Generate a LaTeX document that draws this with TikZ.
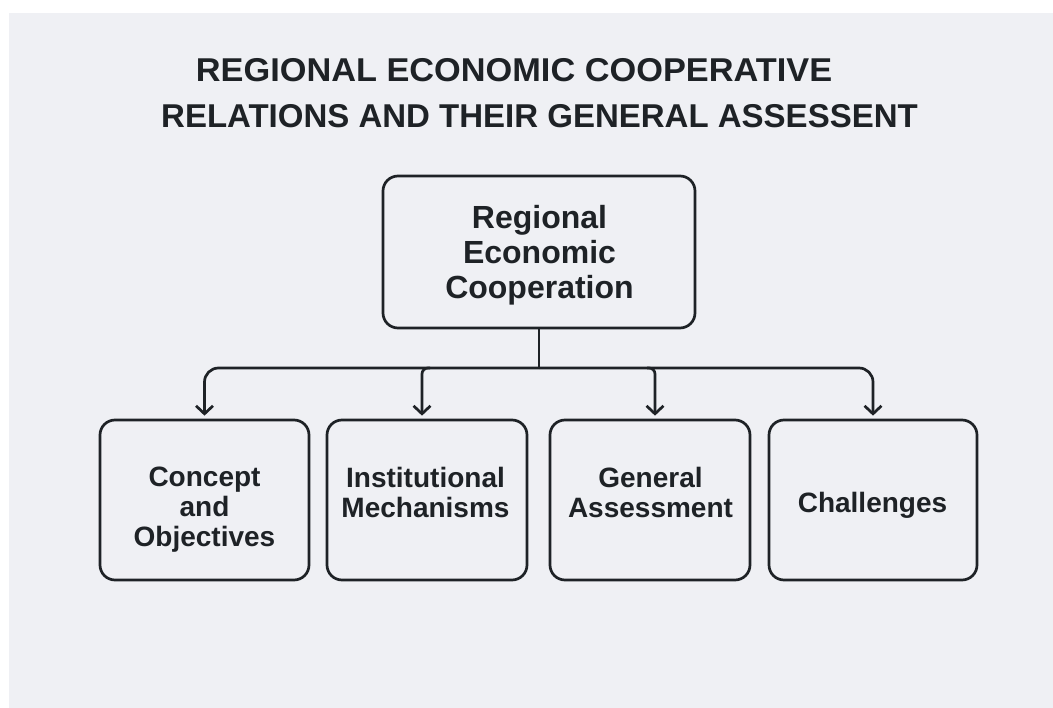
\documentclass[tikz,border=0pt]{standalone}
\usepackage{fontspec}
\setmainfont{Liberation Sans}
\usetikzlibrary{arrows.meta}
\definecolor{bg}{HTML}{EFF0F4}
\definecolor{ink}{HTML}{1E2226}
\begin{document}
\begin{tikzpicture}[x=1pt,y=-1pt,
  box/.style={draw=ink, line width=2.7pt, rounded corners=15pt, inner sep=0pt},
  txt/.style={text=ink, font=\bfseries\fontsize{28}{30}\selectfont, align=center, inner sep=0pt, anchor=north},
  bigtxt/.style={txt, font=\bfseries\fontsize{32}{35}\selectfont},
  titletxt/.style={text=ink, font=\bfseries\fontsize{33}{40}\selectfont, inner sep=0pt, anchor=base},
  conn/.style={draw=ink, line width=2.7pt, rounded corners=14pt},
  tip/.style={-{Straight Barb[length=8pt,width=17pt]}}
]
\useasboundingbox (0,0) rectangle (1053,708);
\fill[white] (0,0) rectangle (1053,708);
\fill[bg] (9,13) rectangle (1053,708);

% title
\node[titletxt] (t1) at (514,82) {\scalebox{1.04}[1]{REGIONAL ECONOMIC COOPERATIVE}};
\node[titletxt] (t2) at (539.5,128) {RELATIONS AND THEIR GENERAL ASSESSENT};

% boxes
\node[box, minimum width=312pt, minimum height=152pt] (top) at (539,252) {};
\node[box, minimum width=209pt, minimum height=160pt] (b1) at (204.5,500) {};
\node[box, minimum width=200pt, minimum height=160pt] (b2) at (427,500) {};
\node[box, minimum width=200pt, minimum height=160pt] (b3) at (650,500) {};
\node[box, minimum width=208pt, minimum height=160pt] (b4) at (873,500) {};

% texts
\node[bigtxt] (l0) at (539.5,205) {Regional\\Economic\\Cooperation};
\node[txt] (l1) at (204.5,467) {Concept\\and\\Objectives};
\node[txt] (l2) at (425.5,467) {Institutional\\Mechanisms};
\node[txt] (l3) at (650.5,467) {General\\Assessment};
\node[txt] (l4) at (872.5,492) {Challenges};

% connectors
\coordinate (bus) at (539,368);
\coordinate (a2) at ([xshift=-5pt,yshift=3pt]b2.north);
\coordinate (a3) at ([xshift=5pt,yshift=3pt]b3.north);
\draw[conn] (top.south) -- (bus);
\draw[conn,tip] (bus) -| ([yshift=3pt]b1.north);
\draw[conn,tip] (bus) -| ([yshift=3pt]b4.north);
\draw[conn,tip,rounded corners=6pt] ([xshift=8pt]bus -| a2) -| (a2);
\draw[conn,tip,rounded corners=6pt] ([xshift=-8pt]bus -| a3) -| (a3);
\end{tikzpicture}
\end{document}
